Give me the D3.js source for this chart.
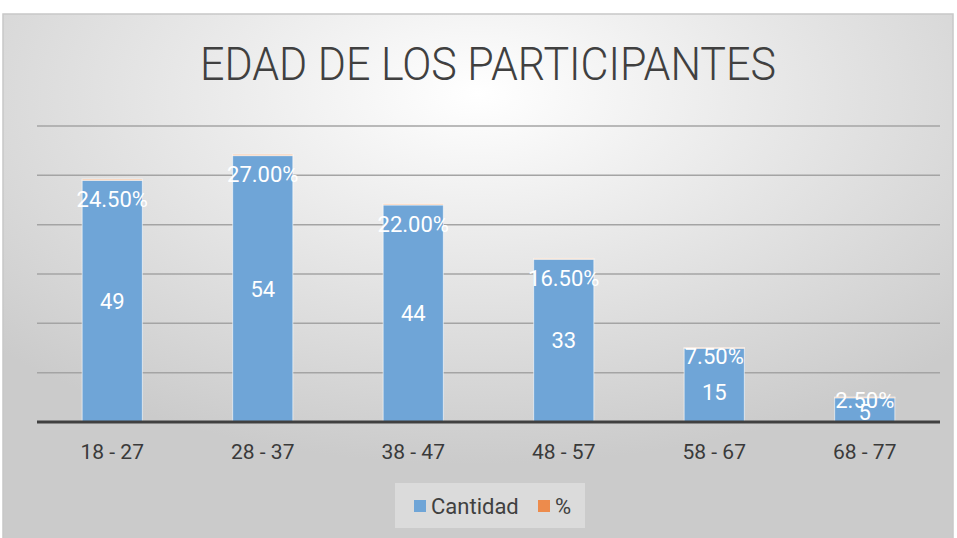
<!DOCTYPE html>
<html><head><meta charset="utf-8">
<script src="https://cdn.jsdelivr.net/npm/d3@7"></script>
<style>html,body{margin:0;padding:0;background:#fff;}svg{display:block;}</style>
</head><body>
<svg id="c" width="957" height="538"></svg>
<script>
const categories = ["18 - 27","28 - 37","38 - 47","48 - 57","58 - 67","68 - 77"];
const cantidad = [49,54,44,33,15,5];
const pct = [0.245,0.27,0.22,0.165,0.075,0.025];
const pctLabels = ["24.50%","27.00%","22.00%","16.50%","7.50%","2.50%"];
const seriesNames = ["Cantidad","%"];
const yTicks = [0,10,20,30,40,50,60];

const svg = d3.select("#c");
const defs = svg.append("defs");
const g = defs.append("radialGradient").attr("id","bg").attr("cx","50%").attr("cy","15%").attr("r","70%");
g.append("stop").attr("offset","0%").attr("stop-color","#ffffff");
g.append("stop").attr("offset","100%").attr("stop-color","#cbcbcb");

svg.append("rect").attr("x",3).attr("y",14).attr("width",950).attr("height",530)
  .attr("fill","url(#bg)").attr("stroke","#c8c8c8").attr("stroke-width",1.5);

const font = "Roboto, 'Open Sans', sans-serif";
svg.append("text").attr("x",488).attr("y",80).attr("text-anchor","middle")
  .attr("font-family",font).attr("font-weight",300).attr("font-size",46)
  .attr("fill","#404040").attr("textLength",576).attr("lengthAdjust","spacingAndGlyphs")
  .text("EDAD DE LOS PARTICIPANTES");

const x = d3.scaleBand().domain(categories).range([37,940]).paddingInner(0.6).paddingOuter(0.3);
const y = d3.scaleLinear().domain([0,60]).range([422,126]);

svg.append("g").selectAll("line").data(yTicks.filter(t=>t>0)).join("line")
  .attr("x1",37).attr("x2",940).attr("y1",d=>y(d)).attr("y2",d=>y(d))
  .attr("stroke","#a4a4a4").attr("stroke-width",1.5);

const data = categories.map((c,i)=>({c, a:cantidad[i], p:pct[i], pl:pctLabels[i]}));
const stack = d3.stack().keys(["a","p"])(data);
const colors = ["#6fa5d7","#f4b183"];

stack.forEach((s,si)=>{
  svg.append("g").selectAll("rect").data(s).join("rect")
    .attr("x",d=>x(d.data.c)).attr("width",x.bandwidth())
    .attr("y",d=>y(d[1])).attr("height",d=>Math.max(0.8,y(d[0])-y(d[1])))
    .attr("fill",colors[si]).attr("stroke","#ffffff").attr("stroke-opacity",0.6).attr("stroke-width",1);
});

svg.append("line").attr("x1",37).attr("x2",940).attr("y1",y(0)).attr("y2",y(0))
  .attr("stroke","#404040").attr("stroke-width",3);

const xAxis = d3.axisBottom(x).tickSize(0).tickPadding(22);
const ax = svg.append("g").attr("transform",`translate(0,${y(0)})`).call(xAxis);
ax.select(".domain").remove();
ax.selectAll("text").attr("font-family",font).attr("font-size",21).attr("fill","#3a3a3a");

const pctY = d=>{const top=y(d.a+d.p); const h=y(0)-top; return top+Math.min(20,h*0.12);};

svg.append("g").selectAll("text").data(data).join("text")
  .attr("x",d=>x(d.c)+x.bandwidth()/2)
  .attr("y",d=>Math.max((y(0)+y(d.a))/2, Math.min(pctY(d)+36, y(0)-10)))
  .attr("dy","0.35em").attr("text-anchor","middle")
  .attr("font-family",font).attr("font-size",22).attr("fill","#ffffff")
  .text(d=>d.a);

svg.append("g").selectAll("text").data(data).join("text")
  .attr("x",d=>x(d.c)+x.bandwidth()/2)
  .attr("y",pctY)
  .attr("dy","0.35em").attr("text-anchor","middle")
  .attr("font-family",font).attr("font-size",22).attr("fill","#ffffff")
  .text(d=>d.pl);

const lg = svg.append("g");
lg.append("rect").attr("x",395).attr("y",483).attr("width",190).attr("height",45).attr("fill","#e6e6e6").attr("opacity",0.6);
const items = [{n:seriesNames[0],c:"#6fa5d7",x:414},{n:seriesNames[1],c:"#ed8b4c",x:538}];
items.forEach(it=>{
  lg.append("rect").attr("x",it.x).attr("y",500).attr("width",12).attr("height",12).attr("fill",it.c);
  lg.append("text").attr("x",it.x+17).attr("y",506).attr("dy","0.35em")
    .attr("font-family",font).attr("font-size",22).attr("fill","#404040").text(it.n);
});
</script>
</body></html>
